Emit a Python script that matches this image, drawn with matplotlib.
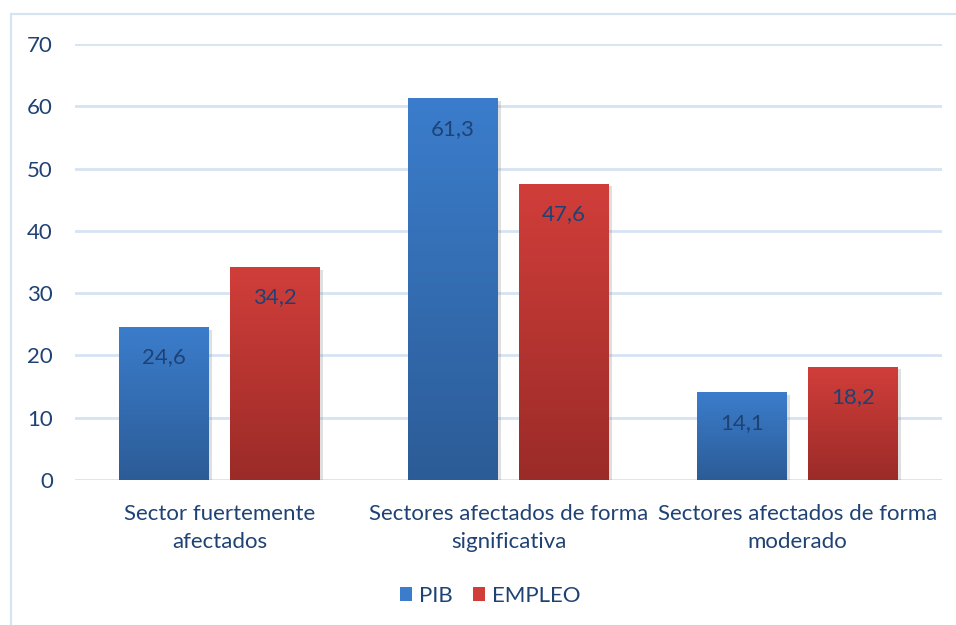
import numpy as np
import matplotlib
matplotlib.use("Agg")
import matplotlib.pyplot as plt
import matplotlib.patheffects as pe
from matplotlib.patches import Patch
from matplotlib.colors import LinearSegmentedColormap
from matplotlib.lines import Line2D

plt.rcParams['font.family'] = ['Lato', 'DejaVu Sans']

categorias = ['Sector fuertemente\nafectados',
              'Sectores afectados de forma\nsignificativa',
              'Sectores afectados de forma\nmoderado']
series = ['PIB', 'EMPLEO']
pib = [24.6, 61.3, 14.1]
empleo = [34.2, 47.6, 18.2]

color_texto = '#1F4275'
color_rejilla = '#D6E3F3'
colores = {'PIB': ('#3B7DCC', '#2C5C97'), 'EMPLEO': ('#D13E3A', '#9B2B28')}

fig = plt.figure(figsize=(9.56, 6.25), dpi=100)
ax = fig.add_axes([75 / 956, 1 - 480 / 625, (942 - 75) / 956, (480 - 44) / 625])

# marco exterior del grafico
fig.add_artist(Line2D([11 / 956, 11 / 956], [0, 1 - 14 / 625], color=color_rejilla, lw=1.5))
fig.add_artist(Line2D([11 / 956, 1], [1 - 14 / 625, 1 - 14 / 625], color=color_rejilla, lw=1.5))

x = np.arange(len(categorias))
ancho = 0.311
sep = 0.073
desp = (ancho + sep) / 2

for valores, nombre, signo in [(pib, 'PIB', -1), (empleo, 'EMPLEO', 1)]:
    c_top, c_bot = colores[nombre]
    cmap = LinearSegmentedColormap.from_list(nombre, [c_bot, c_top])
    barras = ax.bar(x + signo * desp, valores, ancho, color=c_top, zorder=2,
                    path_effects=[pe.SimplePatchShadow(offset=(2, -2), alpha=0.25, shadow_rgbFace='#808080'),
                                  pe.Normal()])
    for b, v in zip(barras, valores):
        x0, w, h = b.get_x(), b.get_width(), b.get_height()
        grad = np.linspace(0, 1, 256).reshape(-1, 1)
        im = ax.imshow(grad, cmap=cmap, origin='lower', aspect='auto',
                       extent=[x0, x0 + w, 0, h], zorder=3)
        im.set_clip_path(b)
        ax.annotate(f'{v:.1f}'.replace('.', ','), (x0 + w / 2, h), xytext=(0, -22),
                    textcoords='offset points', ha='center', va='center',
                    fontsize=16, color=color_texto, zorder=4)

ax.set_xlim(-0.5, 2.5)
ax.set_ylim(0, 70)
ax.set_yticks(range(0, 71, 10))
ax.set_xticks(x)
ax.set_xticklabels(categorias, fontsize=16, color=color_texto, linespacing=1.5)
ax.tick_params(axis='y', labelsize=16, labelcolor=color_texto, length=0, pad=16)
ax.tick_params(axis='x', length=0, pad=17)
ax.yaxis.grid(True, color=color_rejilla, lw=2, zorder=0)
ax.set_axisbelow(True)
for s in ax.spines.values():
    s.set_visible(False)

handles = [Patch(facecolor=colores[n][0], label=n) for n in series]
fig.legend(handles=handles, loc='center', bbox_to_anchor=(490 / 956, 1 - 596 / 625),
           ncol=2, frameon=False, fontsize=16, labelcolor=color_texto,
           handlelength=0.55, handleheight=0.55, handletextpad=0.3, columnspacing=0.9)

fig.savefig('out.png', dpi=100)
